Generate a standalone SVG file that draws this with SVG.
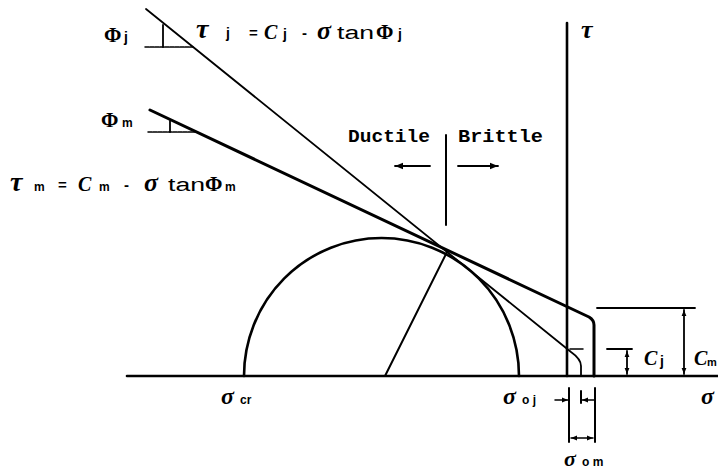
<svg xmlns="http://www.w3.org/2000/svg" width="718" height="473" viewBox="0 0 718 473">
<style>
.ln{stroke:#000;fill:none;stroke-linecap:round;stroke-linejoin:round}
.g{font-family:"Liberation Serif","DejaVu Serif",serif;font-weight:bold;fill:#000}
.gi{font-family:"Liberation Serif","DejaVu Serif",serif;font-weight:bold;font-style:italic;fill:#000}
.s{font-family:"Liberation Sans","DejaVu Sans",sans-serif;font-weight:bold;fill:#000}
.t{font-family:"Liberation Sans","DejaVu Sans",sans-serif;font-weight:normal;fill:#000}
.m{font-family:"Liberation Mono","DejaVu Sans Mono",monospace;font-weight:bold;fill:#000}
</style>
<defs>
<marker id="ah" viewBox="0 0 10 10" refX="10" refY="5" markerWidth="6" markerHeight="6" orient="auto-start-reverse" markerUnits="userSpaceOnUse">
<path d="M0,1 L10,5 L0,9 z" fill="#000"/>
</marker>
<marker id="ab" viewBox="0 0 10 10" refX="10" refY="5" markerWidth="10" markerHeight="8" orient="auto-start-reverse" markerUnits="userSpaceOnUse">
<path d="M0,1 L10,5 L0,9 z" fill="#000"/>
</marker>
</defs>
<rect width="718" height="473" fill="#fff"/>

<g id="axes">
<line class="ln" x1="127" y1="376" x2="718" y2="376" stroke-width="2.6"/>
<line class="ln" x1="567" y1="23" x2="567" y2="376" stroke-width="2.6"/>
<text class="gi" x="581" y="38" font-size="26">τ</text>
<text class="gi" x="701" y="404" font-size="24">σ</text>
</g>

<g id="mohr-circle">
<path class="ln" d="M244,376 A137.5,138 0 0 1 519,376" stroke-width="2.6"/>
<line class="ln" x1="385" y1="376" x2="447" y2="252" stroke-width="2"/>
</g>

<g id="connectors">
<path class="ln" d="M146,9 L571,352 Q581,359 581,366 L581,376" stroke-width="1.8"/>
<line class="ln" x1="570" y1="349" x2="583" y2="349" stroke-width="1.5"/>
<path class="ln" d="M150,110 L589,317 Q594,320 594,325 L594,376" stroke-width="3"/>
<line class="ln" x1="145" y1="47" x2="193" y2="47" stroke-width="1.5" stroke-dasharray="4,1"/>
<line class="ln" x1="163" y1="25" x2="163" y2="47" stroke-width="1.8"/>
<line class="ln" x1="148" y1="132" x2="196" y2="132" stroke-width="1.5" stroke-dasharray="4,1"/>
<line class="ln" x1="170" y1="121" x2="170" y2="132" stroke-width="1.8"/>
<line class="ln" x1="446" y1="135" x2="446" y2="225" stroke-width="2"/>
<line class="ln" x1="430" y1="166" x2="395" y2="166" stroke-width="1.8" marker-end="url(#ab)"/>
<line class="ln" x1="458" y1="166" x2="498" y2="166" stroke-width="1.8" marker-end="url(#ab)"/>
<line class="ln" x1="597" y1="308" x2="695" y2="308" stroke-width="1.8"/>
<line class="ln" x1="684" y1="310" x2="684" y2="374" stroke-width="1.8" marker-start="url(#ah)" marker-end="url(#ah)"/>
<line class="ln" x1="607" y1="349" x2="632" y2="349" stroke-width="1.8"/>
<line class="ln" x1="627" y1="351" x2="627" y2="374" stroke-width="1.8" marker-start="url(#ah)" marker-end="url(#ah)"/>
<line class="ln" x1="569" y1="388" x2="569" y2="442" stroke-width="2"/>
<line class="ln" x1="595" y1="388" x2="595" y2="442" stroke-width="2"/>
<line class="ln" x1="581" y1="391" x2="581" y2="403" stroke-width="2"/>
<line class="ln" x1="555" y1="400" x2="568" y2="400" stroke-width="1.5" marker-end="url(#ah)"/>
<line class="ln" x1="594" y1="400" x2="582" y2="400" stroke-width="1.5" marker-end="url(#ah)"/>
<line class="ln" x1="571" y1="438" x2="593" y2="438" stroke-width="1.5" marker-start="url(#ah)" marker-end="url(#ah)"/>
</g>

<g id="label-phi-j">
<text class="g" x="104" y="42" font-size="21">Φ</text>
<text class="s" x="124" y="42" font-size="14">j</text>
</g>
<g id="label-tau-j">
<text class="gi" x="196" y="38" font-size="28">τ</text>
<text class="s" x="226" y="38" font-size="14">j</text>
<text class="s" x="249" y="38" font-size="15">=</text>
<text class="gi" x="264" y="39" font-size="20">C</text>
<text class="s" x="283" y="39" font-size="14">j</text>
<text class="s" x="302" y="38" font-size="15">-</text>
<text class="gi" x="317" y="39" font-size="26">σ</text>
<text class="t" x="337" y="39" font-size="18" textLength="37" lengthAdjust="spacingAndGlyphs">tan</text>
<text class="g" x="376" y="39" font-size="21">Φ</text>
<text class="s" x="398" y="39" font-size="14">j</text>
</g>
<g id="label-phi-m">
<text class="g" x="101" y="127" font-size="21">Φ</text>
<text class="s" x="122" y="127" font-size="12">m</text>
</g>
<g id="label-tau-m">
<text class="gi" x="10" y="191" font-size="28">τ</text>
<text class="s" x="34" y="191" font-size="12">m</text>
<text class="s" x="58" y="190" font-size="15">=</text>
<text class="gi" x="78" y="191" font-size="20">C</text>
<text class="s" x="99" y="191" font-size="12">m</text>
<text class="s" x="124" y="190" font-size="15">-</text>
<text class="gi" x="144" y="191" font-size="26">σ</text>
<text class="t" x="168" y="191" font-size="18" textLength="37" lengthAdjust="spacingAndGlyphs">tan</text>
<text class="g" x="205" y="191" font-size="21">Φ</text>
<text class="s" x="225" y="191" font-size="12">m</text>
</g>
<g id="label-ductile-brittle">
<text class="m" x="348" y="142" font-size="19" textLength="82" lengthAdjust="spacingAndGlyphs">Ductile</text>
<text class="m" x="458" y="142" font-size="19" textLength="85" lengthAdjust="spacingAndGlyphs">Brittle</text>
</g>
<g id="label-sigma-cr">
<text class="gi" x="221" y="404" font-size="24">σ</text>
<text class="s" x="240" y="404" font-size="12">cr</text>
</g>
<g id="label-sigma-oj">
<text class="gi" x="503" y="404" font-size="24">σ</text>
<text class="s" x="522" y="404" font-size="12">o j</text>
</g>
<g id="label-sigma-om">
<text class="gi" x="564" y="466" font-size="22">σ</text>
<text class="s" x="582" y="466" font-size="12">o m</text>
</g>
<g id="label-cj">
<text class="gi" x="644" y="365" font-size="20">C</text>
<text class="s" x="660" y="366" font-size="14">j</text>
</g>
<g id="label-cm">
<text class="gi" x="694" y="365" font-size="20">C</text>
<text class="s" x="707" y="366" font-size="11">m</text>
</g>
</svg>
